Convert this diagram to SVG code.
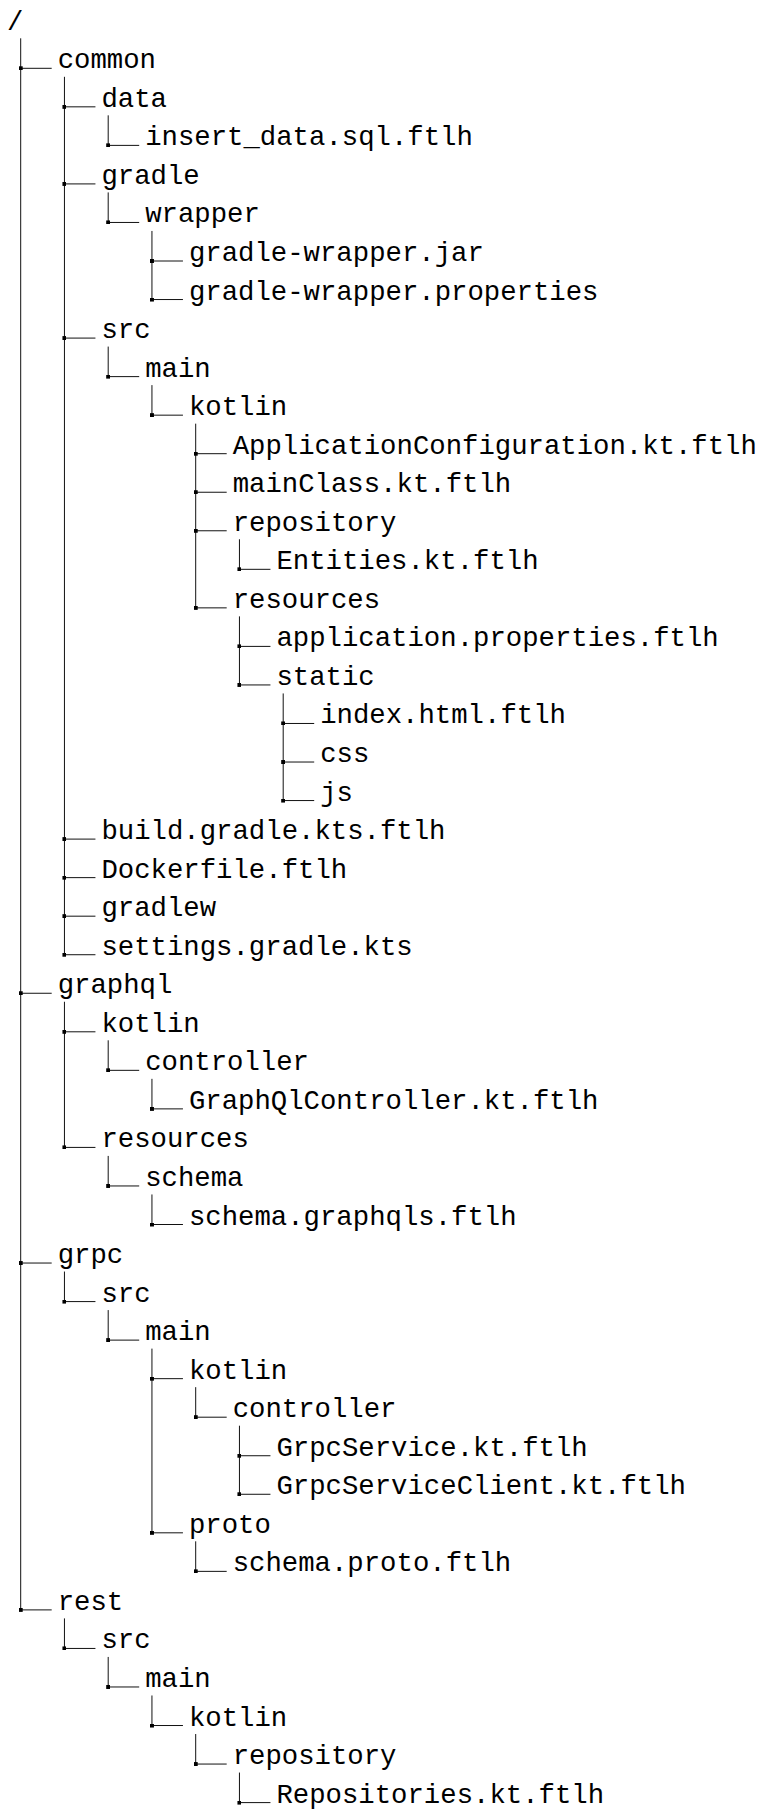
<svg xmlns="http://www.w3.org/2000/svg" width="762" height="1810" viewBox="0 0 762 1810">
<style>
  text { font-family: "Liberation Mono", "DejaVu Sans Mono", monospace; font-size: 27.3px; fill: #000; }
  .v { stroke: #111; stroke-width: 1; fill: none; }
  .h { stroke: #111; stroke-width: 1; fill: none; marker-start: url(#dot); }
</style>
<defs>
  <marker id="dot" markerUnits="userSpaceOnUse" markerWidth="4" markerHeight="4" refX="2" refY="2" orient="0">
    <rect x="0" y="0" width="4" height="4" fill="#000"/>
  </marker>
</defs>
<rect width="762" height="1810" fill="#fff"/>
<g id="connectors">
  <path class="v" d="M20.7 38.3 V1609.9"/>
  <path class="v" d="M64.45 76.8 V954.72"/>
  <path class="v" d="M108.2 115.34 V145.38"/>
  <path class="v" d="M108.2 192.42 V222.46"/>
  <path class="v" d="M151.95 230.96 V299.54"/>
  <path class="v" d="M108.2 346.58 V376.62"/>
  <path class="v" d="M151.95 385.12 V415.16"/>
  <path class="v" d="M195.7 423.66 V607.86"/>
  <path class="v" d="M239.45 539.28 V569.32"/>
  <path class="v" d="M239.45 616.36 V684.94"/>
  <path class="v" d="M283.2 693.44 V800.56"/>
  <path class="v" d="M64.45 1001.76 V1147.42"/>
  <path class="v" d="M108.2 1040.3 V1070.34"/>
  <path class="v" d="M151.95 1078.84 V1108.88"/>
  <path class="v" d="M108.2 1155.92 V1185.96"/>
  <path class="v" d="M151.95 1194.46 V1224.5"/>
  <path class="v" d="M64.45 1271.54 V1301.58"/>
  <path class="v" d="M108.2 1310.08 V1340.12"/>
  <path class="v" d="M151.95 1348.62 V1532.82"/>
  <path class="v" d="M195.7 1387.16 V1417.2"/>
  <path class="v" d="M239.45 1425.7 V1494.28"/>
  <path class="v" d="M195.7 1541.32 V1571.36"/>
  <path class="v" d="M64.45 1618.4 V1648.44"/>
  <path class="v" d="M108.2 1656.94 V1686.98"/>
  <path class="v" d="M151.95 1695.48 V1725.52"/>
  <path class="v" d="M195.7 1734.02 V1764.06"/>
  <path class="v" d="M239.45 1772.56 V1802.6"/>

  <path class="h" d="M20.7 68.3 h31"/>
  <path class="h" d="M64.45 106.84 h31"/>
  <path class="h" d="M108.2 145.38 h31"/>
  <path class="h" d="M64.45 183.92 h31"/>
  <path class="h" d="M108.2 222.46 h31"/>
  <path class="h" d="M151.95 261 h31"/>
  <path class="h" d="M151.95 299.54 h31"/>
  <path class="h" d="M64.45 338.08 h31"/>
  <path class="h" d="M108.2 376.62 h31"/>
  <path class="h" d="M151.95 415.16 h31"/>
  <path class="h" d="M195.7 453.7 h31"/>
  <path class="h" d="M195.7 492.24 h31"/>
  <path class="h" d="M195.7 530.78 h31"/>
  <path class="h" d="M239.45 569.32 h31"/>
  <path class="h" d="M195.7 607.86 h31"/>
  <path class="h" d="M239.45 646.4 h31"/>
  <path class="h" d="M239.45 684.94 h31"/>
  <path class="h" d="M283.2 723.48 h31"/>
  <path class="h" d="M283.2 762.02 h31"/>
  <path class="h" d="M283.2 800.56 h31"/>
  <path class="h" d="M64.45 839.1 h31"/>
  <path class="h" d="M64.45 877.64 h31"/>
  <path class="h" d="M64.45 916.18 h31"/>
  <path class="h" d="M64.45 954.72 h31"/>
  <path class="h" d="M20.7 993.26 h31"/>
  <path class="h" d="M64.45 1031.8 h31"/>
  <path class="h" d="M108.2 1070.34 h31"/>
  <path class="h" d="M151.95 1108.88 h31"/>
  <path class="h" d="M64.45 1147.42 h31"/>
  <path class="h" d="M108.2 1185.96 h31"/>
  <path class="h" d="M151.95 1224.5 h31"/>
  <path class="h" d="M20.7 1263.04 h31"/>
  <path class="h" d="M64.45 1301.58 h31"/>
  <path class="h" d="M108.2 1340.12 h31"/>
  <path class="h" d="M151.95 1378.66 h31"/>
  <path class="h" d="M195.7 1417.2 h31"/>
  <path class="h" d="M239.45 1455.74 h31"/>
  <path class="h" d="M239.45 1494.28 h31"/>
  <path class="h" d="M151.95 1532.82 h31"/>
  <path class="h" d="M195.7 1571.36 h31"/>
  <path class="h" d="M20.7 1609.9 h31"/>
  <path class="h" d="M64.45 1648.44 h31"/>
  <path class="h" d="M108.2 1686.98 h31"/>
  <path class="h" d="M151.95 1725.52 h31"/>
  <path class="h" d="M195.7 1764.06 h31"/>
  <path class="h" d="M239.45 1802.6 h31"/>
</g>
<g id="root"><text x="7" y="29.76">/</text></g>
<g id="n-common"><text x="57.7" y="68.3">common</text></g>
<g id="n-common-data"><text x="101.45" y="106.84">data</text></g>
<g id="n-insert-data"><text x="145.2" y="145.38">insert_data.sql.ftlh</text></g>
<g id="n-common-gradle"><text x="101.45" y="183.92">gradle</text></g>
<g id="n-wrapper"><text x="145.2" y="222.46">wrapper</text></g>
<g id="n-wrapper-jar"><text x="188.95" y="261">gradle-wrapper.jar</text></g>
<g id="n-wrapper-props"><text x="188.95" y="299.54">gradle-wrapper.properties</text></g>
<g id="n-common-src"><text x="101.45" y="338.08">src</text></g>
<g id="n-common-main"><text x="145.2" y="376.62">main</text></g>
<g id="n-common-kotlin"><text x="188.95" y="415.16">kotlin</text></g>
<g id="n-appconfig"><text x="232.7" y="453.7">ApplicationConfiguration.kt.ftlh</text></g>
<g id="n-mainclass"><text x="232.7" y="492.24">mainClass.kt.ftlh</text></g>
<g id="n-common-repository"><text x="232.7" y="530.78">repository</text></g>
<g id="n-entities"><text x="276.45" y="569.32">Entities.kt.ftlh</text></g>
<g id="n-common-resources"><text x="232.7" y="607.86">resources</text></g>
<g id="n-app-props"><text x="276.45" y="646.4">application.properties.ftlh</text></g>
<g id="n-static"><text x="276.45" y="684.94">static</text></g>
<g id="n-index"><text x="320.2" y="723.48">index.html.ftlh</text></g>
<g id="n-css"><text x="320.2" y="762.02">css</text></g>
<g id="n-js"><text x="320.2" y="800.56">js</text></g>
<g id="n-build"><text x="101.45" y="839.1">build.gradle.kts.ftlh</text></g>
<g id="n-dockerfile"><text x="101.45" y="877.64">Dockerfile.ftlh</text></g>
<g id="n-gradlew"><text x="101.45" y="916.18">gradlew</text></g>
<g id="n-settings"><text x="101.45" y="954.72">settings.gradle.kts</text></g>
<g id="n-graphql"><text x="57.7" y="993.26">graphql</text></g>
<g id="n-graphql-kotlin"><text x="101.45" y="1031.8">kotlin</text></g>
<g id="n-graphql-controller"><text x="145.2" y="1070.34">controller</text></g>
<g id="n-graphqlcontroller"><text x="188.95" y="1108.88">GraphQlController.kt.ftlh</text></g>
<g id="n-graphql-resources"><text x="101.45" y="1147.42">resources</text></g>
<g id="n-schema"><text x="145.2" y="1185.96">schema</text></g>
<g id="n-schema-graphqls"><text x="188.95" y="1224.5">schema.graphqls.ftlh</text></g>
<g id="n-grpc"><text x="57.7" y="1263.04">grpc</text></g>
<g id="n-grpc-src"><text x="101.45" y="1301.58">src</text></g>
<g id="n-grpc-main"><text x="145.2" y="1340.12">main</text></g>
<g id="n-grpc-kotlin"><text x="188.95" y="1378.66">kotlin</text></g>
<g id="n-grpc-controller"><text x="232.7" y="1417.2">controller</text></g>
<g id="n-grpcservice"><text x="276.45" y="1455.74">GrpcService.kt.ftlh</text></g>
<g id="n-grpcserviceclient"><text x="276.45" y="1494.28">GrpcServiceClient.kt.ftlh</text></g>
<g id="n-proto"><text x="188.95" y="1532.82">proto</text></g>
<g id="n-schema-proto"><text x="232.7" y="1571.36">schema.proto.ftlh</text></g>
<g id="n-rest"><text x="57.7" y="1609.9">rest</text></g>
<g id="n-rest-src"><text x="101.45" y="1648.44">src</text></g>
<g id="n-rest-main"><text x="145.2" y="1686.98">main</text></g>
<g id="n-rest-kotlin"><text x="188.95" y="1725.52">kotlin</text></g>
<g id="n-rest-repository"><text x="232.7" y="1764.06">repository</text></g>
<g id="n-repositories"><text x="276.45" y="1802.6">Repositories.kt.ftlh</text></g>
</svg>
